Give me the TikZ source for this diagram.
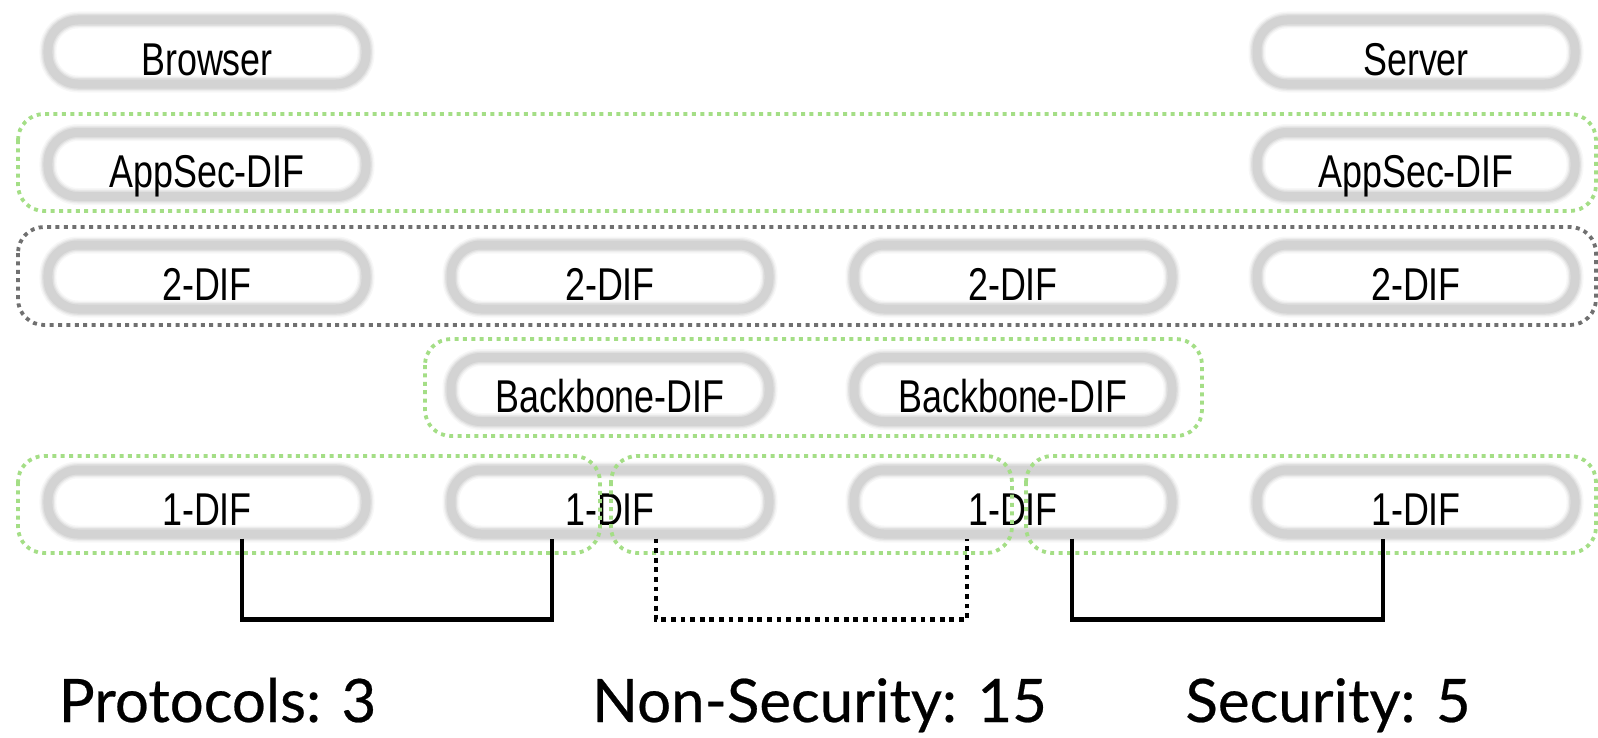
\documentclass[tikz,border=0pt]{standalone}
\usepackage{fontspec}
\newfontfamily\pillfont{Liberation Sans}[FakeStretch=0.78]
\newfontfamily\countfont{Lato}[FakeBold=0.4]
\usetikzlibrary{calc}

\definecolor{ringgray}{RGB}{211,211,211}
\definecolor{difgreen}{RGB}{164,222,134}
\definecolor{difgray}{RGB}{112,112,112}

\tikzset{
  pill/.style={rectangle, rounded corners=15bp,
    minimum width=159bp, minimum height=32bp, inner sep=0pt, outer sep=2.25bp,
    preaction={draw=black!3, line width=8.5bp},
    preaction={draw=black!7, line width=7bp},
    preaction={draw=black!12, line width=5.8bp},
    draw=ringgray, line width=4.5bp,
    font=\pillfont\fontsize{23bp}{27bp}\selectfont,
    text height=23bp, text depth=0bp, text=black},
  grp/.style={line width=1.9bp, dash pattern=on 2bp off 2.2bp, rounded corners=13bp},
  greengrp/.style={grp, draw=difgreen},
  graygrp/.style={grp, draw=difgray},
  link/.style={line width=2.2bp, draw=black},
  dottedlink/.style={link, dash pattern=on 2.4bp off 2.4bp},
  count/.style={font=\countfont\fontsize{30bp}{34bp}\selectfont, anchor=base, inner sep=0pt},
}

\begin{document}
\begin{tikzpicture}[x=0.5bp, y=-0.5bp]
  \useasboundingbox (0,0) rectangle (1598,738);

  % end hosts
  \node[pill] (p11) at (207,52) {Browser};
  \node[pill] (p14) at (1416,52) {Server};
  % application security layer
  \node[pill] (p21) at (207,164.5) {AppSec-DIF};
  \node[pill] (p24) at (1416,164.5) {AppSec-DIF};
  % 2-DIF layer
  \node[pill] (p31) at (207,277) {2-DIF};
  \node[pill] (p32) at (610,277) {2-DIF};
  \node[pill] (p33) at (1013,277) {2-DIF};
  \node[pill] (p34) at (1416,277) {2-DIF};
  % backbone
  \node[pill] (p42) at (610,389.5) {Backbone-DIF};
  \node[pill] (p43) at (1013,389.5) {Backbone-DIF};
  % 1-DIF layer
  \node[pill] (p51) at (207,502) {1-DIF};
  \node[pill] (p52) at (610,502) {1-DIF};
  \node[pill] (p53) at (1013,502) {1-DIF};
  \node[pill] (p54) at (1416,502) {1-DIF};

  % DIF scopes
  \draw[greengrp] (18,114) rectangle (1596,211);
  \draw[graygrp]  (18,227) rectangle (1596,325);
  \draw[greengrp] (425,339) rectangle (1202,436);
  \draw[greengrp] (18,456) rectangle (600,553);
  \draw[greengrp] (611,456) rectangle (1012,553);
  \draw[greengrp] (1026,456) rectangle (1596,553);

  % links between 1-DIF members
  \draw[link] ($(p51.south)+(35,0)$) -- ++(0,81) -| ($(p52.south)+(-58,0)$);
  \draw[dottedlink] ($(p52.south)+(46,0)$) -- ++(0,81) -| ($(p53.south)+(-46,0)$);
  \draw[link] ($(p53.south)+(59,0)$) -- ++(0,81) -| ($(p54.south)+(-33,0)$);

  % protocol counts
  \node[count] (nprot) at (217.5,722) {Protocols: 3};
  \node[count] (nnonsec) at (819.5,722) {Non-Security: 15};
  \node[count] (nsec) at (1328,722) {Security: 5};
\end{tikzpicture}
\end{document}
